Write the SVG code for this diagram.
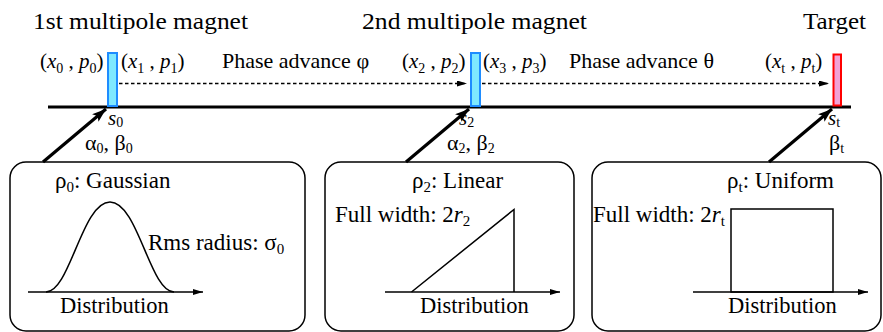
<svg xmlns="http://www.w3.org/2000/svg" width="883" height="332" viewBox="0 0 883 332">
<defs>
<marker id="ah" viewBox="0 0 10 6" refX="10" refY="3" markerWidth="10" markerHeight="6" markerUnits="userSpaceOnUse" orient="auto"><path d="M0,0L10,3L0,6z" fill="#000"/></marker>
<marker id="ahb" viewBox="0 0 14 10" refX="14" refY="5" markerWidth="14" markerHeight="10" markerUnits="userSpaceOnUse" orient="auto"><path d="M0,0L14,5L0,10L3,5z" fill="#000"/></marker>
</defs>
<rect width="883" height="332" fill="#fff"/>

<g id="titles">
<text font-family="Liberation Serif" font-size="24" x="33" y="29" textLength="215" lengthAdjust="spacingAndGlyphs">1st multipole magnet</text>
<text font-family="Liberation Serif" font-size="24" x="362" y="29" textLength="225" lengthAdjust="spacingAndGlyphs">2nd multipole magnet</text>
<text font-family="Liberation Serif" font-size="24" x="803" y="29" textLength="63" lengthAdjust="spacingAndGlyphs">Target</text>
</g>

<g id="connectors" stroke="#000" fill="none">
<line x1="48" y1="107" x2="851" y2="107" stroke-width="3"/>
<g stroke-width="1.3" stroke-dasharray="3.5,2.5">
<line x1="119" y1="83.5" x2="467" y2="83.5" marker-end="url(#ah)"/>
<line x1="482" y1="83.5" x2="829" y2="83.5" marker-end="url(#ah)"/>
</g>
<g stroke-width="3.2">
<line x1="43" y1="162" x2="106" y2="109" marker-end="url(#ahb)"/>
<line x1="406" y1="162" x2="469" y2="109" marker-end="url(#ahb)"/>
<line x1="769" y1="162" x2="832" y2="109" marker-end="url(#ahb)"/>
</g>
</g>

<g id="magnet1">
<rect x="108" y="53" width="9" height="53" fill="#7fe9ff" stroke="#1e8cff" stroke-width="2"/>
<text font-family="Liberation Serif" font-size="21" x="40" y="68">(<tspan font-style="italic">x</tspan><tspan font-size="14" dy="5">0</tspan><tspan dy="-5"> , </tspan><tspan font-style="italic">p</tspan><tspan font-size="14" dy="5">0</tspan><tspan dy="-5">)</tspan></text>
<text font-family="Liberation Serif" font-size="21" x="121" y="68">(<tspan font-style="italic">x</tspan><tspan font-size="14" dy="5">1</tspan><tspan dy="-5"> , </tspan><tspan font-style="italic">p</tspan><tspan font-size="14" dy="5">1</tspan><tspan dy="-5">)</tspan></text>
</g>
<text id="phase1" font-family="Liberation Serif" font-size="22" x="222" y="68">Phase advance φ</text>
<g id="magnet2">
<rect x="471" y="53" width="9" height="53" fill="#7fe9ff" stroke="#1e8cff" stroke-width="2"/>
<text font-family="Liberation Serif" font-size="21" x="402" y="68">(<tspan font-style="italic">x</tspan><tspan font-size="14" dy="5">2</tspan><tspan dy="-5"> , </tspan><tspan font-style="italic">p</tspan><tspan font-size="14" dy="5">2</tspan><tspan dy="-5">)</tspan></text>
<text font-family="Liberation Serif" font-size="21" x="483" y="68">(<tspan font-style="italic">x</tspan><tspan font-size="14" dy="5">3</tspan><tspan dy="-5"> , </tspan><tspan font-style="italic">p</tspan><tspan font-size="14" dy="5">3</tspan><tspan dy="-5">)</tspan></text>
</g>
<text id="phase2" font-family="Liberation Serif" font-size="22" x="569" y="68">Phase advance θ</text>
<g id="target">
<rect x="833.5" y="54.5" width="7.5" height="51" fill="#f2a2d6" stroke="#ff0000" stroke-width="2"/>
<text font-family="Liberation Serif" font-size="21" x="765" y="68">(<tspan font-style="italic">x</tspan><tspan font-size="14" dy="5">t</tspan><tspan dy="-5"> , </tspan><tspan font-style="italic">p</tspan><tspan font-size="14" dy="5">t</tspan><tspan dy="-5">)</tspan></text>
</g>

<g id="label0">
<text font-family="Liberation Serif" font-size="21" x="108" y="125"><tspan font-style="italic">s</tspan><tspan font-size="14" dy="2">0</tspan></text>
<text font-family="Liberation Serif" font-size="22" x="85" y="150">α<tspan font-size="14" dy="3">0</tspan><tspan dy="-3">, β</tspan><tspan font-size="14" dy="3">0</tspan></text>
</g>
<g id="label2">
<text font-family="Liberation Serif" font-size="21" x="459" y="125"><tspan font-style="italic">s</tspan><tspan font-size="14" dy="2">2</tspan></text>
<text font-family="Liberation Serif" font-size="22" x="447" y="150">α<tspan font-size="14" dy="3">2</tspan><tspan dy="-3">, β</tspan><tspan font-size="14" dy="3">2</tspan></text>
</g>
<g id="labelt">
<text font-family="Liberation Serif" font-size="21" x="828" y="125"><tspan font-style="italic">s</tspan><tspan font-size="14" dy="2">t</tspan></text>
<text font-family="Liberation Serif" font-size="22" x="829" y="150">β<tspan font-size="14" dy="3">t</tspan></text>
</g>

<g id="box1">
<rect x="10" y="162" width="295" height="169" rx="16" fill="none" stroke="#000" stroke-width="1.5"/>
<text font-family="Liberation Serif" font-size="23" x="55" y="188">ρ<tspan font-size="15" dy="4">0</tspan><tspan dy="-4">: Gaussian</tspan></text>
<path d="M46,292 C70,292 82,202 110,202 C138,202 150,292 174,292" fill="none" stroke="#000" stroke-width="1.5"/>
<line x1="28" y1="292" x2="203" y2="292" stroke="#000" stroke-width="1.5" marker-end="url(#ah)"/>
<text font-family="Liberation Serif" font-size="23" x="148" y="250">Rms radius: σ<tspan font-size="15" dy="4">0</tspan></text>
<text font-family="Liberation Serif" font-size="22.5" x="60" y="313">Distribution</text>
</g>

<g id="box2">
<rect x="325" y="162" width="249" height="169" rx="16" fill="none" stroke="#000" stroke-width="1.5"/>
<text font-family="Liberation Serif" font-size="23" x="412" y="188">ρ<tspan font-size="15" dy="4">2</tspan><tspan dy="-4">: Linear</tspan></text>
<path d="M411.5,292 L514,209.5 L514,292" fill="none" stroke="#000" stroke-width="1.5"/>
<line x1="385" y1="292" x2="560" y2="292" stroke="#000" stroke-width="1.5" marker-end="url(#ah)"/>
<text font-family="Liberation Serif" font-size="23" x="335" y="222">Full width: 2<tspan font-style="italic">r</tspan><tspan font-size="15" dy="4">2</tspan></text>
<text font-family="Liberation Serif" font-size="22.5" x="420" y="313">Distribution</text>
</g>

<g id="box3">
<rect x="592" y="162" width="289" height="169" rx="16" fill="none" stroke="#000" stroke-width="1.5"/>
<text font-family="Liberation Serif" font-size="23" x="727" y="188">ρ<tspan font-size="15" dy="4">t</tspan><tspan dy="-4">: Uniform</tspan></text>
<rect x="731" y="209" width="102" height="83" fill="none" stroke="#000" stroke-width="1.5"/>
<line x1="693" y1="292" x2="868" y2="292" stroke="#000" stroke-width="1.5" marker-end="url(#ah)"/>
<text font-family="Liberation Serif" font-size="23" x="593" y="222">Full width: 2<tspan font-style="italic">r</tspan><tspan font-size="15" dy="4">t</tspan></text>
<text font-family="Liberation Serif" font-size="22.5" x="728" y="313">Distribution</text>
</g>
</svg>
